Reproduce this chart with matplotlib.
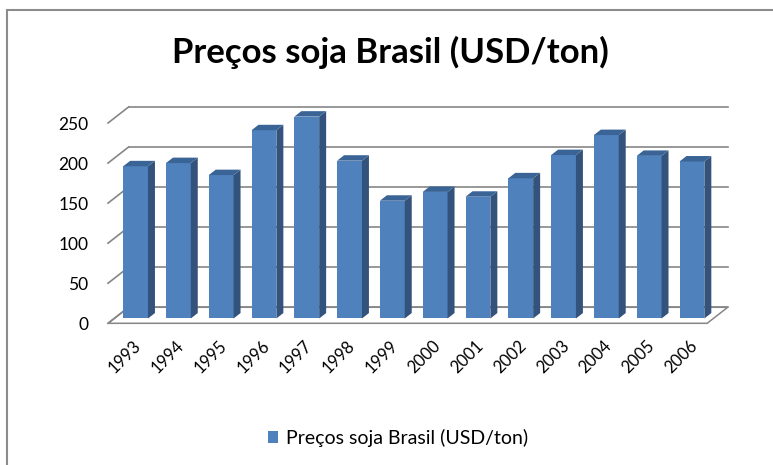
import numpy as np
import matplotlib
matplotlib.use('Agg')
import matplotlib.pyplot as plt
from matplotlib.patches import Polygon, Rectangle

# dados
anos = ['1993', '1994', '1995', '1996', '1997', '1998', '1999',
        '2000', '2001', '2002', '2003', '2004', '2005', '2006']
precos = [190, 194, 179, 235, 252, 197, 147, 158, 152, 175, 204, 229, 203, 196]
yticks = [0, 50, 100, 150, 200, 250]
serie = 'Preços soja Brasil (USD/ton)'

plt.rcParams['font.family'] = ['Lato', 'DejaVu Sans']

# cores e profundidade "3D"
frente = '#4F81BD'
lado = '#34537C'
topo = '#3A6496'
grade = '#868686'
DX, DY = 0.48, 20.0   # deslocamento da parede do fundo (categorias, valores)
F, D = 0.30, 0.34     # posição e profundidade das barras
W = 0.58

fig = plt.figure(figsize=(7.73, 4.65), dpi=100)
ax = fig.add_axes([108 / 773, 141.7 / 465, 619.7 / 773, 216.3 / 465])
ax.set_xlim(-0.5, len(anos) - 0.5 + DX)
ax.set_ylim(0, yticks[-1] + DY)

x = np.arange(len(anos))
x0, x1 = -0.5, len(anos) - 0.5

# chão
ax.add_patch(Polygon([(x0, 0), (x1, 0), (x1 + DX, DY), (x0 + DX, DY)],
                     closed=True, facecolor='white', edgecolor=grade,
                     lw=1.1, zorder=1, clip_on=False))

# linhas de grade (fundo e parede lateral)
for v in yticks:
    ax.plot([x0 + DX, x1 + DX], [v + DY, v + DY], color=grade, lw=1.2,
            zorder=1, clip_on=False)
    ax.plot([x0, x0 + DX], [v, v + DY], color=grade, lw=1.2,
            zorder=1, clip_on=False)

# barras: face frontal
xc = x + F * DX
ax.bar(xc, precos, width=W, bottom=F * DY, color=frente, zorder=3,
       label=serie)

# faces lateral e superior
for xi, v in zip(xc, precos):
    xl, xr = xi - W / 2, xi + W / 2
    b = F * DY
    ax.add_patch(Polygon([(xr, b), (xr + D * DX, b + D * DY),
                          (xr + D * DX, b + D * DY + v), (xr, b + v)],
                         closed=True, facecolor=lado, edgecolor='none',
                         zorder=3))
    ax.add_patch(Polygon([(xl, b + v), (xr, b + v),
                          (xr + D * DX, b + D * DY + v),
                          (xl + D * DX, b + D * DY + v)],
                         closed=True, facecolor=topo, edgecolor='none',
                         zorder=3))

for s in ax.spines.values():
    s.set_visible(False)

ax.set_yticks(yticks)
ax.set_yticklabels([str(t) for t in yticks], fontsize=12.5)
ax.tick_params(axis='y', length=0, pad=14)

ax.set_xticks(x + 0.08)
ax.set_xticklabels(anos, fontsize=12, rotation=45, ha='right',
                   rotation_mode='anchor')
ax.tick_params(axis='x', length=0, pad=10)

fig.text(0.505, 1 - 52 / 465, serie, ha='center', va='center',
         fontsize=25, fontweight='bold')

fig.legend(loc='center', bbox_to_anchor=(398 / 773, 1 - 438 / 465),
           frameon=False, fontsize=14, handlelength=0.55, handleheight=0.55,
           handletextpad=0.4)

# borda da área do gráfico
fig.patches.append(Rectangle((7 / 773, -0.1), 2, (465 - 10) / 465 + 0.1,
                             transform=fig.transFigure, fill=False,
                             edgecolor='#8C8C8C', lw=1.5))

fig.savefig('out.png', dpi=100)
